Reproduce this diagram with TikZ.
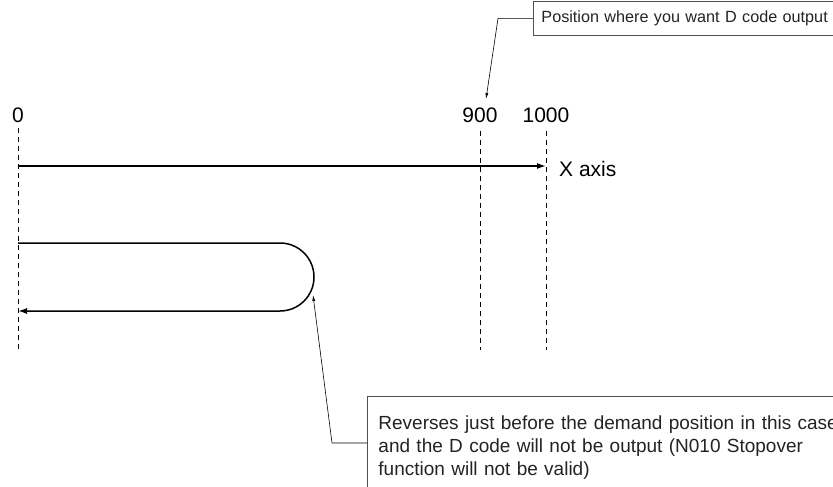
\documentclass[tikz,border=0pt]{standalone}
\usepackage{fontspec}
\setmainfont{Liberation Sans}
\usetikzlibrary{arrows.meta,positioning}
\definecolor{boxgray}{RGB}{80,80,80}
\definecolor{textgray}{RGB}{35,35,35}

\begin{document}
\begin{tikzpicture}[x=1pt, y=-1pt,
    axlab/.style={font=\fontsize{21}{25}\selectfont, anchor=base, inner sep=0pt},
    guide/.style={dash pattern=on 5pt off 4pt, line width=0.9pt},
    mv/.style={line width=1.5pt, -{Latex[length=9pt,width=6pt]}},
    note/.style={draw=boxgray, line width=0.9pt, text=textgray, align=left, anchor=north west},
    lead/.style={line width=0.6pt, -{Latex[length=6pt,width=3pt]}}
]
    \useasboundingbox (0,0) rectangle (833,487);
    \clip (0,0) rectangle (833,487);

    \node[axlab] (z)     at (18,122)  {0};
    \node[axlab] (n900)  at (480,122) {900};
    \node[axlab] (n1000) at (546,122) {1000};
    \coordinate (bot) at (0,350);

    \draw[guide] ([yshift=-6pt]z.south) -- (z.south |- bot);
    \draw[guide] ([yshift=-9pt]n900.south) -- (n900.south |- bot);
    \draw[guide] ([yshift=-9pt]n1000.south) -- (n1000.south |- bot);

    \coordinate (ax0) at (18,166);
    \coordinate (ax1) at (546,166);
    \draw[mv] (ax0) -- (ax1);
    \node[axlab, anchor=base west] (xlab) at (559,176) {X axis};

    \coordinate (l0) at (18,243);
    \coordinate (l1) at (18,311);
    \draw[mv] (l0) -- (280,243) arc[start angle=90, end angle=-90, radius=34pt] -- (l1);

    \node[note, font=\fontsize{16.2}{20}\selectfont, minimum height=34pt,
        inner xsep=8pt, text width=330pt] (want) at (533,1)
        {Position where you want D code output};
    \coordinate (tip900) at (486,99);
    \draw[lead] (want.west) -- ++(-35,0) -- (tip900);

    \node[note, font=\fontsize{19}{23}\selectfont, inner xsep=11pt, inner ysep=19pt,
        text width=480pt] (rev) at (367,396)
        {Reverses just before the demand position in this case\\
         and the D code will not be output (N010 Stopover\\
         function will not be valid)};
    \coordinate (tiploop) at (313,295);
    \draw[lead] ([yshift=-47pt]rev.north west) -- (332,443) -- (tiploop);
\end{tikzpicture}
\end{document}
